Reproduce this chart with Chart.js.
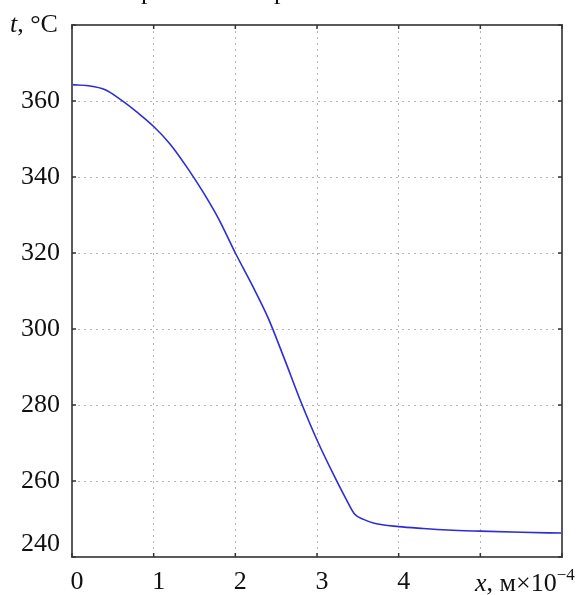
<!DOCTYPE html>
<html>
<head>
<meta charset="utf-8">
<script src="https://cdn.jsdelivr.net/npm/chart.js@4"></script>
<style>
  html, body { margin: 0; padding: 0; background: #fff; }
  #marco { width: 579px; height: 595px; }
</style>
</head>
<body>
<div id="marco"><canvas id="grafico"></canvas></div>
<script>
// datos: x en m*10^-4, t en grados C
const posiciones = [0, 0.2, 0.4, 0.6, 0.8, 1.0, 1.2, 1.4, 1.6, 1.8, 2.0, 2.2, 2.4, 2.6, 2.8,
  3.0, 3.2, 3.35, 3.46, 3.57, 3.7, 4.0, 4.3, 4.6, 5.0, 5.5, 6.0];
const temperaturas = [364.3, 364.0, 363.0, 360.3, 357.0, 353.3, 348.7, 342.8, 336.2, 328.8, 320.0,
  311.8, 303.0, 292.2, 281.0, 270.8, 261.8, 255.5, 251.3, 249.9, 248.9, 248.0, 247.5, 247.1,
  246.8, 246.5, 246.3];
const marcasX = [0, 1, 2, 3, 4];           // las que llevan numero
const marcasY = [240, 260, 280, 300, 320, 340, 360];

const fuente = "'Liberation Serif', 'Times New Roman', serif";
const colorBorde = '#5a5a5a';

// marco, marquitas interiores y titulos de los ejes
const dibujoExtra = {
  id: 'dibujoExtra',
  afterDraw(chart) {
    const ctx = chart.ctx;
    const a = chart.chartArea;
    const sx = chart.scales.x, sy = chart.scales.y;
    ctx.save();
    ctx.strokeStyle = colorBorde;
    ctx.lineWidth = 2;
    ctx.strokeRect(a.left, a.top, a.right - a.left, a.bottom - a.top);

    ctx.lineWidth = 1.5;
    ctx.strokeStyle = '#333';
    ctx.beginPath();
    sx.ticks.forEach(t => {
      const px = sx.getPixelForValue(t.value);
      ctx.moveTo(px, a.bottom); ctx.lineTo(px, a.bottom - 4);
      ctx.moveTo(px, a.top); ctx.lineTo(px, a.top + 4);
    });
    sy.ticks.forEach(t => {
      const py = sy.getPixelForValue(t.value);
      ctx.moveTo(a.left, py); ctx.lineTo(a.left + 4, py);
      ctx.moveTo(a.right, py); ctx.lineTo(a.right - 4, py);
    });
    ctx.stroke();

    ctx.fillStyle = '#111';
    ctx.textBaseline = 'alphabetic';
    ctx.textAlign = 'left';
    // titulo eje y
    let x = 10;
    ctx.font = 'italic 26px ' + fuente;
    ctx.fillText('t', x, 32);
    x += ctx.measureText('t').width;
    ctx.font = '26px ' + fuente;
    ctx.fillText(', °C', x, 32);
    // titulo eje x
    x = 475;
    ctx.font = 'italic 26px ' + fuente;
    ctx.fillText('x', x, 591);
    x += ctx.measureText('x').width;
    ctx.font = '26px ' + fuente;
    ctx.fillText(', м×10', x, 591);
    x += ctx.measureText(', м×10').width;
    ctx.font = '17px ' + fuente;
    ctx.fillText('−4', x, 580);
    // restos del titulo recortado arriba
    ctx.font = '26px ' + fuente;
    ctx.fillText('р', 141, -1);
    ctx.fillText('р', 274, -1);
    ctx.restore();
  }
};

const config = {
  type: 'line',
  data: {
    datasets: [{
      data: posiciones.map((p, i) => ({x: p, y: temperaturas[i]})),
      borderColor: 'rgb(45, 45, 215)',
      borderWidth: 1.6,
      pointRadius: 0,
      fill: false,
      cubicInterpolationMode: 'monotone'
    }]
  },
  options: {
    responsive: true,
    maintainAspectRatio: false,
    animation: false,
    layout: { padding: { top: 15, right: 17, left: 0, bottom: 0 } },
    plugins: { legend: { display: false }, tooltip: { enabled: false } },
    scales: {
      x: {
        type: 'linear',
        min: 0, max: 6,
        afterFit: s => { s.height = 37; },
        ticks: {
          stepSize: 1,
          padding: 10,
          labelOffset: 5,
          color: '#111',
          font: { family: fuente, size: 26 },
          callback: v => marcasX.includes(v) ? String(v) : ''
        },
        grid: { color: '#b5b5b5', lineWidth: 1, drawTicks: false },
        border: { display: false, dash: [2, 4] }
      },
      y: {
        min: 240, max: 380,
        afterFit: s => { s.width = 72; },
        ticks: {
          stepSize: 20,
          padding: 12,
          color: '#111',
          font: { family: fuente, size: 26, lineHeight: 1 },
          callback: v => {
            if (!marcasY.includes(v)) return '';
            return v === 240 ? ['240', ''] : String(v);
          }
        },
        grid: { color: '#b5b5b5', lineWidth: 1, drawTicks: false },
        border: { display: false, dash: [2, 4] }
      }
    }
  },
  plugins: [dibujoExtra]
};

const graficoTemperatura = new Chart(document.getElementById('grafico'), config);
</script>
</body>
</html>
